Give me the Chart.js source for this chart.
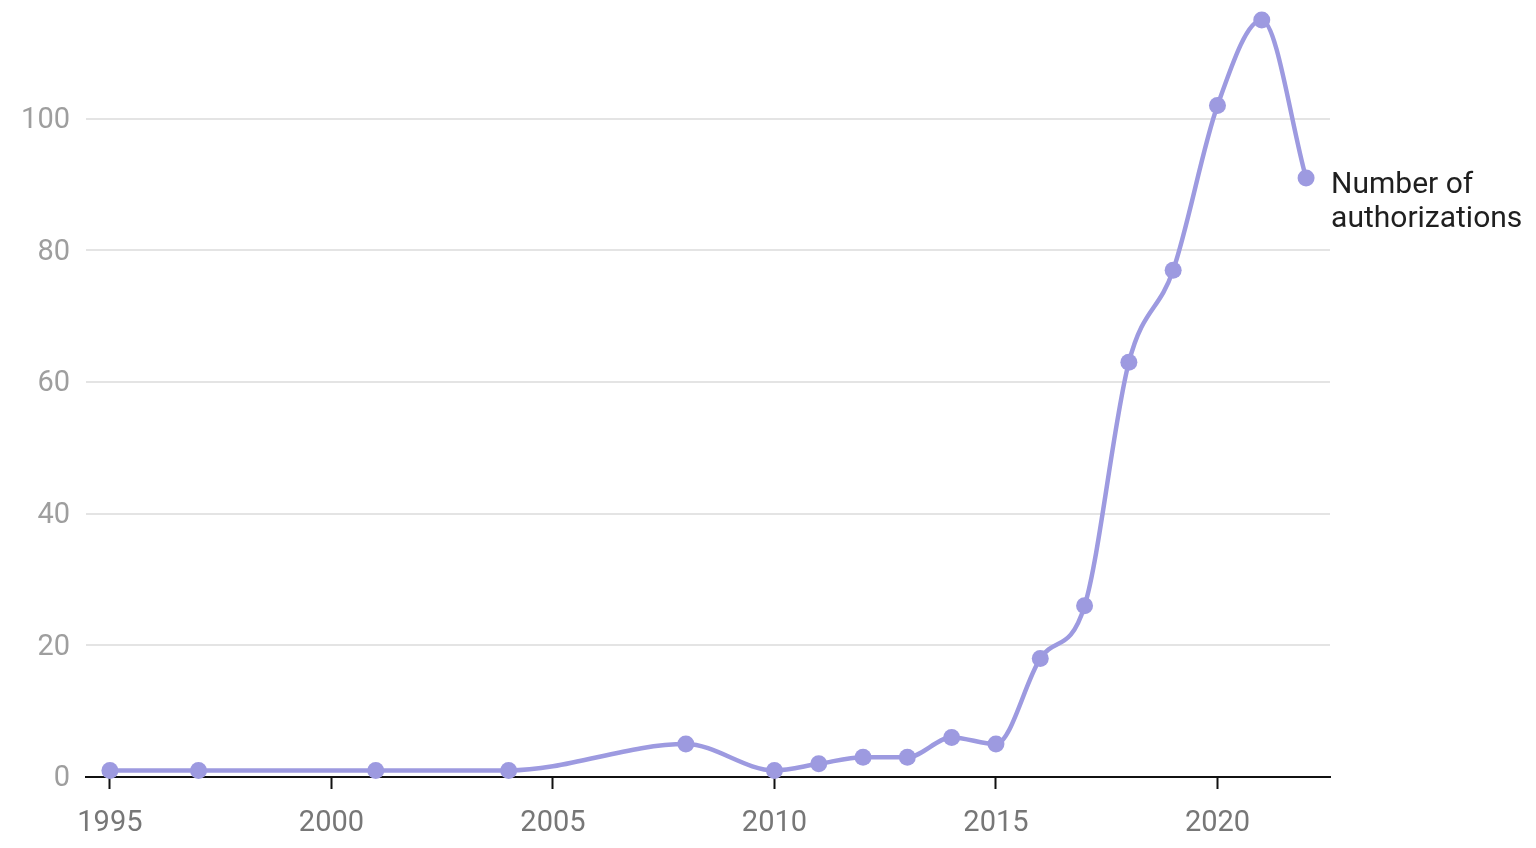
<!DOCTYPE html>
<html>
<head>
<meta charset="utf-8">
<title>Number of authorizations</title>
<script src="https://cdn.jsdelivr.net/npm/chart.js@4.4.1/dist/chart.umd.min.js"></script>
<style>
    html, body {
        margin: 0;
        padding: 0;
        background: #ffffff;
    }
    #wrap {
        width: 1536px;
        height: 848px;
    }
</style>
</head>
<body>
<div id="wrap"><canvas id="authChart" width="1536" height="848"></canvas></div>
<script>
// data
const years = [1995, 1997, 2001, 2004, 2008, 2010, 2011, 2012, 2013, 2014, 2015, 2016, 2017, 2018, 2019, 2020, 2021, 2022];
const authorizations = [1, 1, 1, 1, 5, 1, 2, 3, 3, 6, 5, 18, 26, 63, 77, 102, 115, 91];
const xTicks = [1995, 2000, 2005, 2010, 2015, 2020];
const yTicks = [0, 20, 40, 60, 80, 100];
const seriesLabel = ["Number of", "authorizations"];

const lineColor = "#9d9ae0";

// writes the series name next to the last point
const endLabel = {
    id: "endLabel",
    afterDatasetsDraw(chart) {
        const meta = chart.getDatasetMeta(0);
        const last = meta.data[meta.data.length - 1];
        const ctx = chart.ctx;
        ctx.save();
        ctx.font = "30px Roboto";
        ctx.fillStyle = "#1f1f1f";
        ctx.textAlign = "left";
        ctx.textBaseline = "middle";
        ctx.fillText(seriesLabel[0], last.x + 25, last.y + 8);
        ctx.fillText(seriesLabel[1], last.x + 25, last.y + 42);
        ctx.restore();
    }
};

document.addEventListener("DOMContentLoaded", function () {
    const ctx = document.getElementById("authChart").getContext("2d");

    new Chart(ctx, {
        type: "line",
        data: {
            datasets: [
                {
                    label: seriesLabel.join(" "),
                    data: years.map((y, i) => ({ x: y, y: authorizations[i] })),
                    borderColor: lineColor,
                    backgroundColor: lineColor,
                    borderWidth: 4.5,
                    pointRadius: 8.5,
                    pointBorderWidth: 0,
                    cubicInterpolationMode: "monotone",
                    clip: false,
                },
            ],
        },
        options: {
            responsive: false,
            animation: false,
            layout: {
                padding: { left: 0, right: 206, top: 20, bottom: 0 },
            },
            plugins: {
                legend: { display: false },
                tooltip: { enabled: false },
            },
            scales: {
                x: {
                    type: "linear",
                    min: 1994.46,
                    max: 2022.54,
                    afterBuildTicks: (scale) => {
                        scale.ticks = xTicks.map((v) => ({ value: v }));
                    },
                    afterFit: (scale) => {
                        scale.height = 71;
                        scale.paddingLeft = 0;
                        scale.paddingRight = 0;
                    },
                    border: { display: true, color: "#111111", width: 2 },
                    grid: {
                        drawOnChartArea: false,
                        drawTicks: true,
                        tickLength: 12,
                        tickWidth: 2,
                        color: "#111111",
                    },
                    ticks: {
                        color: "#777777",
                        font: { family: "Roboto", size: 29 },
                        padding: 17,
                        maxRotation: 0,
                        callback: (v) => String(v),
                    },
                },
                y: {
                    min: 0,
                    max: 115,
                    afterBuildTicks: (scale) => {
                        scale.ticks = yTicks.map((v) => ({ value: v }));
                    },
                    afterFit: (scale) => {
                        scale.width = 86;
                        scale.paddingTop = 0;
                        scale.paddingBottom = 0;
                    },
                    border: { display: false },
                    grid: {
                        drawTicks: false,
                        color: "#e4e4e4",
                        lineWidth: 2,
                    },
                    ticks: {
                        color: "#9e9e9e",
                        font: { family: "Roboto", size: 29 },
                        padding: 16,
                        labelOffset: 2,
                    },
                },
            },
        },
        plugins: [endLabel],
    });
});
</script>
</body>
</html>
